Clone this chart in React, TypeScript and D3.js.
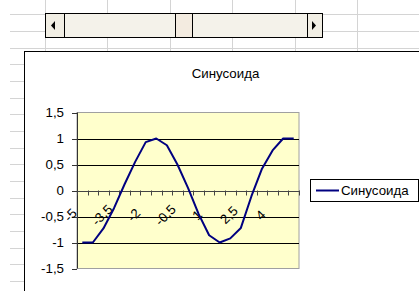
import React from "react";
import * as d3 from "d3";

const categories: string[] = ["-5","-4,5","-4","-3,5","-3","-2,5","-2","-1,5","-1","-0,5","0","0,5","1","1,5","2","2,5","3","3,5","4","4,5","5"];
const seriesValues: number[] = [-1, -1, -0.73, -0.34, 0.12, 0.55, 0.93, 1.0, 0.87, 0.5, 0.05, -0.45, -0.86, -1.0, -0.92, -0.72, -0.11, 0.42, 0.77, 1.0, 1.0];
const yTicks: number[] = [1.5, 1, 0.5, 0, -0.5, -1, -1.5];
const yTickLabels: string[] = ["1,5", "1", "0,5", "0", "-0,5", "-1", "-1,5"];
const gridValues: number[] = [1, 0.5, -0.5, -1];
const labelEvery = 3;
const seriesName = "Синусоида";
const chartTitle = "Синусоида";

const W = 419;
const H = 291;
const FONT = "'Liberation Sans', Arial, sans-serif";

export default function App() {
  const x = d3.scaleBand<string>().domain(categories).range([77, 299]).paddingInner(0).paddingOuter(0);
  const y = d3.scaleLinear().domain([-1.5, 1.5]).range([268.5, 112.5]);
  const bw = x.bandwidth();
  const line = d3
    .line<number>()
    .x((_, i) => (x(categories[i]) as number) + bw / 2)
    .y((d) => y(d));

  const rowLines = d3.range(0, 18).map((k) => 14.3 + k * 16.67);
  const colLines = d3.range(0, 7).map((k) => 45 + k * 62.4);
  const boundaries = d3.range(0, categories.length + 1).map((k) => 77 + k * bw);

  return (
    <svg width={W} height={H} style={{ position: "absolute", left: 0, top: 0, background: "#fff" }}>
      {/* spreadsheet grid */}
      {rowLines.map((ry, i) => (
        <line key={"r" + i} x1={10} x2={W} y1={Math.round(ry) + 0.5} y2={Math.round(ry) + 0.5} stroke="#d4d4d4" />
      ))}
      {colLines.map((cx, i) => (
        <line key={"c" + i} x1={Math.round(cx) + 0.5} x2={Math.round(cx) + 0.5} y1={0} y2={52} stroke="#d4d4d4" />
      ))}

      {/* scrollbar */}
      <g>
        <rect x={45.5} y={13.5} width={277} height={24} fill="#f4f2ea" stroke="#000" />
        <rect x={46} y={14} width={18} height={23} fill="#f1eee4" stroke="none" />
        <line x1={64.5} x2={64.5} y1={14} y2={37} stroke="#000" />
        <path d="M55,21 L51,25.5 L55,30 Z" fill="#000" />
        <rect x={307} y={14} width={15} height={23} fill="#f1eee4" stroke="none" />
        <line x1={307.5} x2={307.5} y1={14} y2={37} stroke="#000" />
        <path d="M312,21 L316,25.5 L312,30 Z" fill="#000" />
        <rect x={175.5} y={13.5} width={17} height={24} fill="#f3ebe0" stroke="#000" />
      </g>

      {/* chart area */}
      <rect x={24.5} y={51.5} width={500} height={400} fill="#fff" stroke="#000" />

      {/* title */}
      <text x={225.5} y={78} textAnchor="middle" fontFamily={FONT} fontSize={13.3} fill="#000">
        {chartTitle}
      </text>

      {/* plot area */}
      <rect x={77} y={y(1.5)} width={222} height={y(-1.5) - y(1.5)} fill="#ffffcc" stroke="#a0a0a0" />
      {gridValues.map((g, i) => (
        <line key={"g" + i} x1={77} x2={299} y1={Math.round(y(g)) + 0.5} y2={Math.round(y(g)) + 0.5} stroke="#000" />
      ))}

      {/* y axis */}
      <line x1={77.5} x2={77.5} y1={y(1.5)} y2={y(-1.5)} stroke="#333" />
      {yTicks.map((t, i) => (
        <g key={"yt" + i}>
          <line x1={72} x2={77} y1={Math.round(y(t)) + 0.5} y2={Math.round(y(t)) + 0.5} stroke="#333" />
          <text x={64} y={y(t)} dy="0.35em" textAnchor="end" fontFamily={FONT} fontSize={13.3} fill="#000">
            {yTickLabels[i]}
          </text>
        </g>
      ))}

      {/* x axis at 0 */}
      <line x1={77} x2={299} y1={Math.round(y(0)) + 0.5} y2={Math.round(y(0)) + 0.5} stroke="#444" />
      {boundaries.map((bx, i) => (
        <line key={"xt" + i} x1={Math.round(bx) + 0.5} x2={Math.round(bx) + 0.5} y1={y(0)} y2={y(0) + 5} stroke="#444" />
      ))}
      {categories.map((c, i) =>
        i % labelEvery === 0 ? (
          <text
            key={"xl" + i}
            transform={`translate(${(x(c) as number) + bw / 2 - 12},${215}) rotate(-45)`}
            textAnchor="middle"
            dy="0.35em"
            fontFamily={FONT}
            fontSize={13.3}
            fill="#000"
          >
            {c}
          </text>
        ) : null
      )}

      {/* series */}
      <path d={line(seriesValues) || ""} fill="none" stroke="#000080" strokeWidth={2} strokeLinejoin="round" />

      {/* legend */}
      <rect x={310.5} y={179.5} width={108} height={22} fill="#fff" stroke="#000" />
      <line x1={316} x2={339} y1={190.5} y2={190.5} stroke="#000080" strokeWidth={2} />
      <text x={341} y={190.5} dy="0.35em" fontFamily={FONT} fontSize={13.3} fill="#000">
        {seriesName}
      </text>
    </svg>
  );
}
